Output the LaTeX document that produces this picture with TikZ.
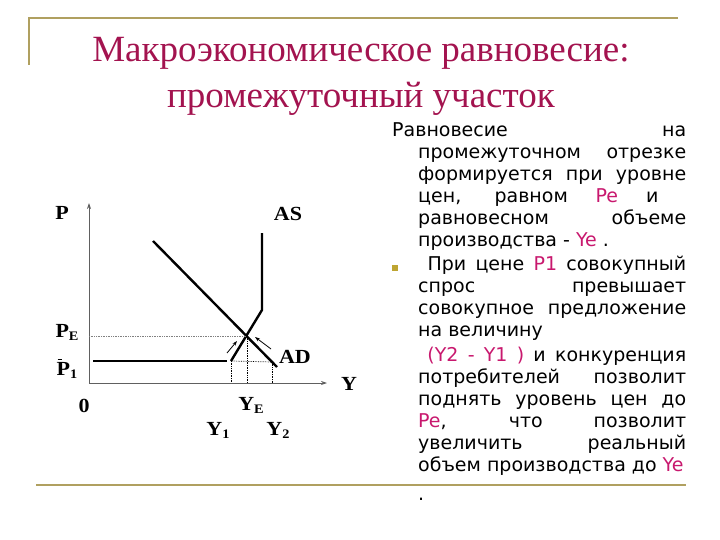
\documentclass[tikz,border=0pt]{standalone}
\usepackage{fontspec}
\setmainfont{Liberation Serif}
\newfontfamily\titlefont{Liberation Serif}
\newfontfamily\bodyfont{DejaVu Sans}
\newfontfamily\labelfont[FakeStretch=1.1]{Liberation Serif}
\usetikzlibrary{arrows.meta,positioning}
\definecolor{framegold}{RGB}{176,160,96}
\definecolor{titlered}{RGB}{163,19,79}
\definecolor{hilite}{RGB}{200,24,110}
\definecolor{bulletgold}{RGB}{190,165,50}
\newcommand{\hl}[1]{\textcolor{hilite}{#1}}
\newcommand{\sub}[1]{\raisebox{-3pt}{\fontsize{13}{13}\selectfont #1}}
\newcommand{\barP}{\makebox[0pt][l]{\hspace{1pt}\raisebox{15pt}{\rule{4pt}{0.8pt}}}P}

\begin{document}
\begin{tikzpicture}[x=1pt,y=-1pt,
    frame/.style={framegold,line width=2pt},
    axis/.style={gray!75!black,line width=0.8pt,-{Stealth[length=6pt,width=4pt]}},
    curve/.style={line width=2.4pt},
    guide/.style={densely dotted,line width=0.7pt},
    nudge/.style={line width=0.8pt,-{Stealth[length=5pt,width=3.5pt]}},
    lbl/.style={font=\labelfont\bfseries\fontsize{20}{20}\selectfont,inner sep=0pt,anchor=base},
    title/.style={font=\titlefont\fontsize{37}{37}\selectfont,text=titlered,anchor=base}]
  \useasboundingbox (0,0) rectangle (720,540);

  \draw[frame] (678,18) -- (29,18) -- (29,65);
  \draw[frame] (36,485) -- (686,485);

  \node[title] (head1) at (361,62) {Макроэкономическое равновесие:};
  \node[title] (head2) at (361,108) {промежуточный участок};

  \coordinate (O) at (89,383);
  \coordinate (Ptop) at (89,203);
  \coordinate (Yend) at (327,383);
  \draw[axis] (O) -- (Ptop);
  \draw[axis] (O) -- (Yend);

  \coordinate (flat0) at (93,361);
  \coordinate (flat1) at (227,361);
  \coordinate (as0) at (231,361);
  \coordinate (as1) at (262,310);
  \coordinate (as2) at (262,233);
  \coordinate (ad0) at (153,241);
  \coordinate (ad1) at (277,367);
  \coordinate (E) at (247,336);
  \draw[curve] (flat0) -- (flat1);
  \draw[curve,line join=miter] (as0) -- (as1) -- (as2);
  \draw[curve] (ad0) -- (ad1);

  \draw[guide,gray] (O |- E) -- (E);
  \draw[guide] (E) -- (E |- O);
  \draw[guide] (as0) -- (272,362);
  \draw[guide] (as0) -- (as0 |- O);
  \draw[guide] (272,362) -- (272,383);

  \coordinate (up0) at (227,353);
  \coordinate (up1) at (237,341);
  \coordinate (back0) at (271,349);
  \coordinate (back1) at (255,337);
  \draw[nudge] (up0) -- (up1);
  \draw[nudge] (back0) -- (back1);

  \node[lbl] (Plab) at (62,219) {P};
  \node[lbl] (ASlab) at (288,221) {AS};
  \node[lbl] (PElab) at (67,337) {P\sub{E}};
  \node[lbl] (P1lab) at (67,375) {\barP\sub{1}};
  \node[lbl] (zero) at (84,412) {0};
  \node[lbl] (Ylab) at (349,390) {Y};
  \node[lbl] (YElab) at (251,410) {Y\sub{E}};
  \node[lbl] (Y1lab) at (218,435) {Y\sub{1}};
  \node[lbl] (Y2lab) at (278,435) {Y\sub{2}};
  \node[lbl] (ADlab) at (295,363) {AD};

  \node[fill=bulletgold,minimum size=6pt,inner sep=0pt] (dot) at (394.5,268) {};
  \node[anchor=north west,inner sep=0pt,text width=294pt,align=justify,
        font=\bodyfont\fontsize{19}{22.1}\selectfont] (body) at (392,122) {%
    \parskip=2pt \tolerance=10000
    \hangindent=26pt \hangafter=1
    Равновесие на\linebreak промежуточном отрезке\linebreak
    формируется при уровне\linebreak цен, равном \hl{Pe} и~\mbox{}\linebreak
    равновесном объеме\linebreak производства - \hl{Ye} .\par
    \leftskip=26pt
    \ При цене \hl{P1} совокупный\linebreak спрос превышает\linebreak
    совокупное предложение\linebreak на величину\par
    \ \hl{(Y2 - Y1 )} и конкуренция\linebreak потребителей позволит\linebreak
    поднять уровень цен до\linebreak \hl{Pe}, что позволит\linebreak
    увеличить реальный\linebreak объем производства до \hl{Ye}\par
    \vspace{5pt}.\par};
\end{tikzpicture}
\end{document}
